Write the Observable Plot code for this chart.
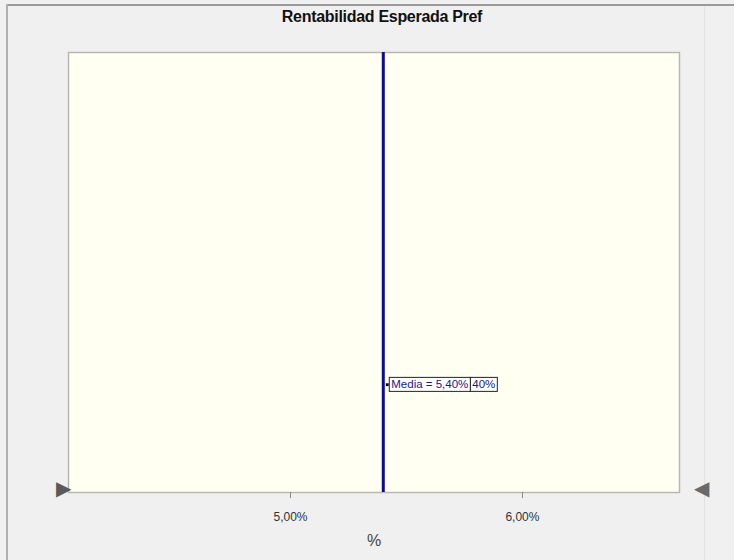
<!DOCTYPE html>
<html>
<head>
<meta charset="utf-8">
<script src="https://cdn.jsdelivr.net/npm/d3@7"></script>
<script src="https://cdn.jsdelivr.net/npm/@observablehq/plot@0.6"></script>
<style>
  html, body { margin: 0; padding: 0; background: #f0f0f0; }
  #wrap { position: relative; width: 734px; height: 560px; overflow: hidden; background: #f0f0f0; }
  #frameTop { position: absolute; left: 6px; top: 4px; width: 728px; height: 2px; background: #9a9a9a; }
  #frameLeft { position: absolute; left: 6px; top: 4px; width: 2px; height: 556px; background: #b0b0b0; }
  #frameRight { position: absolute; left: 704px; top: 6px; width: 1px; height: 554px; background: #e2e2e2; }
  #title { position: absolute; left: 0; top: 8px; width: 764px; text-align: center;
           font-family: "Liberation Sans Narrow", "Liberation Sans", Arial, sans-serif;
           font-weight: bold; font-size: 16px; color: #111; letter-spacing: -0.3px; }
  #chart { position: absolute; left: 0; top: 40px; }
</style>
</head>
<body>
<div id="wrap">
  <div id="frameTop"></div>
  <div id="frameLeft"></div>
  <div id="frameRight"></div>
  <div id="title">Rentabilidad Esperada Pref</div>
  <div id="chart"></div>
</div>
<script>
// ---- data ----
const xDomain = [4.043, 6.677];       // % range of the axis
const tickValues = [5, 6];            // % ticks
const tickLabels = ["5,00%", "6,00%"];
const meanValue = [5.40];             // Media
const meanLabel = "Media = 5,40%";
const axisLabel = "%";

const fmtTick = d => tickLabels[tickValues.indexOf(d)];

function boxed(bg, stroke) {
  return function(index, scales, values, dims, context, next) {
    const g = next(index, scales, values, dims, context);
    requestAnimationFrame(() => {
      d3.select(g).selectAll("text").each(function() {
        const b = this.getBBox();
        d3.select(this.parentNode).insert("rect", () => this)
          .attr("transform", this.getAttribute("transform"))
          .attr("x", b.x - 2).attr("y", b.y - 1)
          .attr("width", b.width + 4).attr("height", b.height + 2)
          .attr("fill", bg).attr("stroke", stroke).attr("stroke-width", 1);
      });
    });
    return g;
  };
}

const labelFont = "Liberation Sans Narrow, Liberation Sans, Arial, sans-serif";
const labelY = [0.245];

const chart = Plot.plot({
  width: 734,
  height: 520,
  marginLeft: 68,
  marginRight: 55,
  marginTop: 12,
  marginBottom: 68,
  style: { background: "transparent", fontFamily: labelFont, fontSize: "12px", color: "#333" },
  x: { domain: xDomain, label: null },
  y: { domain: [0, 1], axis: null },
  marks: [
    Plot.frame({ fill: "#fffff2", stroke: "#b8b8b0", strokeWidth: 1.5 }),
    Plot.axisX({ ticks: tickValues, tickFormat: fmtTick, tickSize: 6, tickPadding: 14,
                 stroke: "#888", fill: "#333", fontSize: 12, label: null }),
    Plot.text([axisLabel], { frameAnchor: "bottom", dy: 53, text: d => d, fontSize: 16, fill: "#444" }),
    Plot.ruleX(meanValue, { stroke: "#0a0a99", strokeWidth: 3 }),
    // small pointer dash from the line to the label
    Plot.dot(meanValue, { x: d => d, y: labelY, symbol: "square", r: 1.6, fill: "#000", stroke: null, dx: 4 }),
    // partly hidden label behind (only its tail shows)
    Plot.text([meanLabel], { x: meanValue, y: labelY, text: d => d.slice(-3), textAnchor: "start",
      dx: 89, fill: "#1a1a8c", fontSize: 11.5, render: boxed("#ffffff", "#222") }),
    Plot.text([meanLabel], { x: meanValue, y: labelY, text: d => d, textAnchor: "start",
      dx: 8, fill: "#1a1a8c", fontSize: 11.5, render: boxed("#ffffff", "#222") }),
    // range triangles
    Plot.text([xDomain[0]], { x: d => d, frameAnchor: "bottom", text: ["▶"], dx: -5, dy: 2,
      fill: "#5a5a5a", fontSize: 20 }),
    Plot.text([xDomain[1]], { x: d => d, frameAnchor: "bottom", text: ["◀"], dx: 22, dy: 2,
      fill: "#6a6a6a", fontSize: 20 })
  ]
});
document.getElementById("chart").appendChild(chart);
</script>
</body>
</html>
